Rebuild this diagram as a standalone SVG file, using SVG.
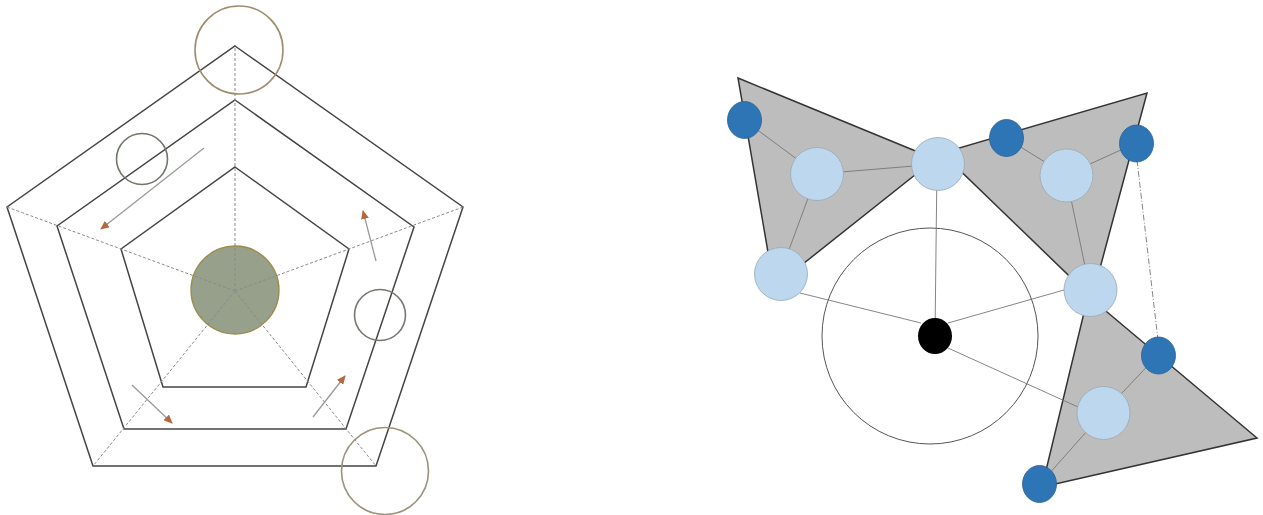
<svg xmlns="http://www.w3.org/2000/svg" width="1263" height="515" viewBox="0 0 1263 515">
<style>
.pent{fill:none;stroke:#444;stroke-width:1.5;stroke-linejoin:miter}
.spoke{stroke:#8a8a8a;stroke-width:1;stroke-dasharray:3 2;fill:none}
.ring{fill:none;stroke-width:1.6}
.arr{stroke:#9a9a9a;stroke-width:1.3;fill:none;marker-end:url(#ah)}
.tri{fill:#BDBDBD;stroke:#333;stroke-width:1.5;stroke-linejoin:miter}
.lnk{stroke:#777;stroke-width:0.9;fill:none}
.lb{fill:#BDD7EE;stroke:#9aa8b5;stroke-width:0.8}
.db{fill:#2E75B6;stroke:#2a5f92;stroke-width:0.8}
</style>
<defs>
<marker id="ah" markerUnits="userSpaceOnUse" markerWidth="10" markerHeight="8" refX="8" refY="4" orient="auto">
<path d="M0,0 L9,4 L0,8 Z" fill="#B5673E"/>
</marker>
</defs>
<rect width="1263" height="515" fill="#fff"/>
<g id="left-pentagons">
<polygon class="pent" points="235,46 463,207 376,466 93,466 7,207"/>
<polygon class="pent" points="235,100 414,227 346,429 124,429 57,226"/>
<polygon class="pent" points="235,167 349,249 306,387 163,387 121,249"/>
</g>
<g id="core">
<circle cx="235" cy="290" r="44" fill="#97A08B" stroke="#9A8C4A" stroke-width="1.3"/>
</g>
<g id="spokes">
<line class="spoke" x1="235" y1="291" x2="235" y2="46"/>
<line class="spoke" x1="235" y1="291" x2="463" y2="207"/>
<line class="spoke" x1="235" y1="291" x2="376" y2="466"/>
<line class="spoke" x1="235" y1="291" x2="93" y2="466"/>
<line class="spoke" x1="235" y1="291" x2="7" y2="207"/>
</g>
<g id="rings">
<circle class="ring" cx="239" cy="50" r="44" stroke="#9E8E6E"/>
<circle class="ring" cx="142" cy="159" r="25.5" stroke="#6E776A"/>
<circle class="ring" cx="380" cy="315" r="25.5" stroke="#737A70"/>
<circle class="ring" cx="385" cy="471" r="43.5" stroke="#9A9478"/>
</g>
<g id="arrows">
<line class="arr" x1="204" y1="148" x2="101" y2="229"/>
<line class="arr" x1="376" y1="261" x2="363" y2="211"/>
<line class="arr" x1="132" y1="385" x2="172" y2="423"/>
<line class="arr" x1="313" y1="417" x2="345" y2="376"/>
</g>
<g id="hub-circle">
<circle cx="930" cy="336" r="108" fill="none" stroke="#555" stroke-width="1"/>
</g>
<g id="triangles">
<polygon class="tri" points="738,78 935,159 774,287"/>
<polygon class="tri" points="1147,93 1092,298 942,153"/>
<polygon class="tri" points="1088,296 1257,438 1042,487"/>
</g>
<g id="connectors">
<line class="lnk" x1="935" y1="336" x2="937" y2="164"/>
<line class="lnk" x1="921" y1="323" x2="800" y2="293"/>
<line class="lnk" x1="948" y1="323" x2="1064" y2="290"/>
<line class="lnk" x1="948" y1="348" x2="1078" y2="407"/>
<line class="lnk" x1="1137" y1="160" x2="1158" y2="340" stroke-dasharray="6 2 1 2"/>
<line class="lnk" x1="744" y1="120" x2="817" y2="174"/>
<line class="lnk" x1="817" y1="174" x2="938" y2="164"/>
<line class="lnk" x1="817" y1="174" x2="780" y2="274"/>
<line class="lnk" x1="1006" y1="138" x2="1066" y2="175"/>
<line class="lnk" x1="1066" y1="175" x2="1136" y2="143"/>
<line class="lnk" x1="1066" y1="175" x2="1090" y2="290"/>
<line class="lnk" x1="1158" y1="355" x2="1103" y2="413"/>
<line class="lnk" x1="1103" y1="413" x2="1040" y2="484"/>
</g>
<g id="node-hub"><ellipse cx="935" cy="336" rx="17" ry="18" fill="#000"/></g>
<g id="node-l1"><circle class="lb" cx="817" cy="174" r="26.5"/></g>
<g id="node-l2"><circle class="lb" cx="938" cy="164" r="26.5"/></g>
<g id="node-l3"><circle class="lb" cx="781" cy="274" r="26.5"/></g>
<g id="node-l4"><circle class="lb" cx="1066.5" cy="175.5" r="26.5"/></g>
<g id="node-l5"><circle class="lb" cx="1090.5" cy="290" r="26.5"/></g>
<g id="node-l6"><circle class="lb" cx="1103.5" cy="413" r="26.5"/></g>
<g id="node-d1"><ellipse class="db" cx="744.5" cy="120" rx="17" ry="18.5"/></g>
<g id="node-d2"><ellipse class="db" cx="1006.5" cy="138" rx="17" ry="18.5"/></g>
<g id="node-d3"><ellipse class="db" cx="1136.5" cy="143.5" rx="17" ry="18.5"/></g>
<g id="node-d4"><ellipse class="db" cx="1158.5" cy="355.5" rx="17" ry="18.5"/></g>
<g id="node-d5"><ellipse class="db" cx="1039.5" cy="484" rx="17" ry="18.5"/></g>
</svg>
